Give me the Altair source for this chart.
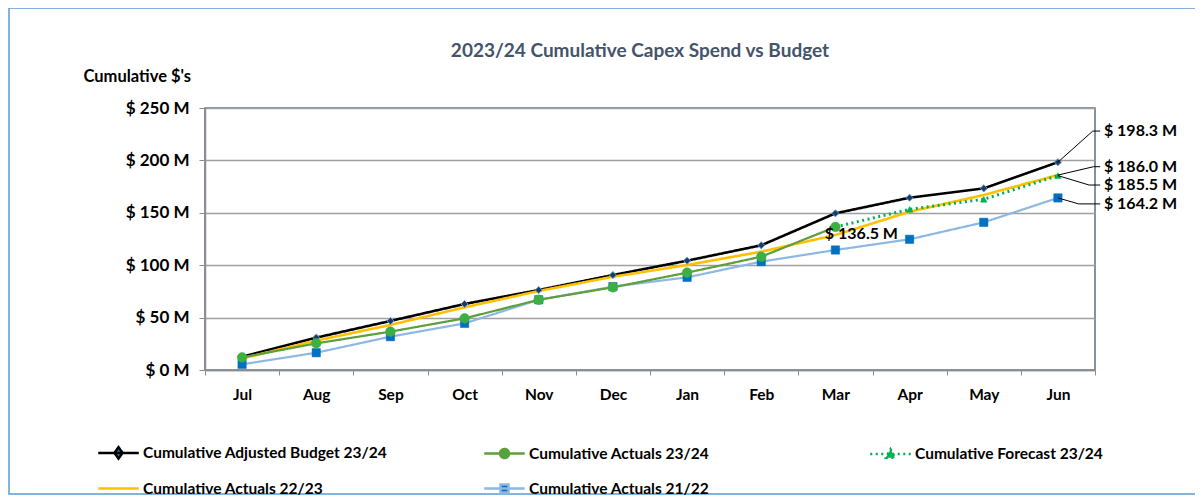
import json
import altair as alt
import pandas as pd

# ---------------- data ----------------
months = ["Jul", "Aug", "Sep", "Oct", "Nov", "Dec", "Jan", "Feb", "Mar", "Apr", "May", "Jun"]

budget_2324 = [12.7, 30.9, 46.8, 63.0, 76.3, 90.6, 104.3, 119.0, 149.5, 164.4, 173.3, 198.3]
actuals_2324 = [12.0, 25.4, 36.6, 49.3, 67.0, 78.9, 92.9, 108.1, 136.5, None, None, None]
forecast_2324 = [None, None, None, None, None, None, None, None, 136.5, 153.3, 162.9, 185.5]
actuals_2223 = [11.0, 28.0, 43.0, 59.8, 75.4, 89.0, 100.2, 112.9, 128.8, 151.0, 167.0, 186.0]
actuals_2122 = [5.4, 16.5, 31.8, 44.5, 67.0, 79.5, 88.4, 103.4, 114.5, 124.7, 140.9, 164.2]

series_names = [
    "Cumulative Adjusted Budget 23/24",
    "Cumulative Actuals 23/24",
    "Cumulative Forecast 23/24",
    "Cumulative Actuals 22/23",
    "Cumulative Actuals 21/22",
]
series_values = [budget_2324, actuals_2324, forecast_2324, actuals_2223, actuals_2122]

# end-of-year call-out labels
callout_values = [198.3, 186.0, 185.5, 164.2]
callout_text = ["$ 198.3 M", "$ 186.0 M", "$ 185.5 M", "$ 164.2 M"]
callout_label_y = [228.0, 194.0, 176.5, 158.5]
callout_elbow_x = [11.47, 11.48, 11.42, 11.28]
mar_label_value = 136.5

# ---------------- styles ----------------
FONT = "Lato"
line_colors = ["#000000", "#5E9E3C", "#00B050", "#FFC000", "#8DB8E4"]
line_widths = [2.6, 2.2, 3.0, 2.6, 2.2]
line_dashes = [[1, 0], [1, 0], [2, 3.5], [1, 0], [1, 0]]
legend_fills = ["#2E75B6", "#3CB043", "#00B050", "#FFC000", "#0070C0"]
L = "M-1.35,0H1.35"
legend_paths = [
    L + "M0,-0.38L0.27,0L0,0.38L-0.27,0Z",
    L + "M0.3,0A0.3,0.3 0 1,0 -0.3,0A0.3,0.3 0 1,0 0.3,0Z",
    L + "M0,-0.3L0.3,0.25L-0.3,0.25Z",
    L,
    L + "M-0.27,-0.27H0.27V0.27H-0.27Z",
]

rows = []
for name, vals in zip(series_names, series_values):
    for i, v in enumerate(vals):
        if v is not None:
            rows.append({"series": name, "idx": i, "month": months[i], "value": v})
df = pd.DataFrame(rows)

W, H = 890, 262
band = W / 12.0

x_scale = alt.Scale(domain=[-0.5, 11.5], nice=False, zero=False)
y_scale = alt.Scale(domain=[0, 250], nice=False)

month_expr = "[" + ",".join(json.dumps(m) for m in months) + "][round(datum.value + 0.5)] || ''"

x_axis = alt.Axis(
    values=[i - 0.5 for i in range(13)],
    labelExpr=month_expr,
    labelOffset=band / 2,
    labelFlush=False,
    labelOverlap=False,
    labelBound=False,
    grid=False,
    title=None,
    labelFont=FONT,
    labelFontSize=15.5,
    labelFontWeight="bold",
    labelColor="#000000",
    labelPadding=12,
    tickSize=5,
    tickColor="#8C8C8C",
    domainColor="#8C8C8C",
    domainWidth=1.5,
)
y_axis = alt.Axis(
    values=[0, 50, 100, 150, 200, 250],
    labelExpr="'$ ' + datum.value + ' M'",
    labelFont=FONT,
    labelFontSize=17,
    labelFontWeight="bold",
    labelColor="#000000",
    labelPadding=10,
    tickSize=6,
    tickColor="#8C8C8C",
    domainColor="#8C8C8C",
    domainWidth=1.5,
    grid=True,
    gridColor="#A0A0A0",
    gridWidth=1.5,
    title="Cumulative $'s",
    titleAngle=0,
    titleAlign="left",
    titleBaseline="middle",
    titleX=-122,
    titleY=-32,
    titleFont=FONT,
    titleFontSize=16.5,
    titleFontWeight="bold",
    titleColor="#000000",
)

legend = alt.Legend(
    title=None,
    orient="none",
    legendX=-103,
    legendY=328,
    direction="horizontal",
    columns=3,
    gridAlign="all",
    columnPadding=91,
    rowPadding=8,
    symbolSize=900,
    symbolStrokeWidth=2.5,
    symbolOpacity=1,
    labelFont=FONT,
    labelFontSize=15.5,
    labelFontWeight="bold",
    labelColor="#000000",
    labelOffset=8,
    labelLimit=400,
)

X = alt.X("idx:Q", scale=x_scale, axis=x_axis)
Y = alt.Y("value:Q", scale=y_scale, axis=y_axis)
base = alt.Chart(df).encode(x=X, y=Y)


def series_line(k):
    return base.transform_filter(alt.datum.series == series_names[k]).mark_line(
        color=line_colors[k], strokeWidth=line_widths[k], strokeDash=line_dashes[k]
    ).encode(order=alt.Order("idx:Q"))


def pts(k, shape, size, fill, stroke, sw, exclude_idx=None):
    c = base.transform_filter(alt.datum.series == series_names[k])
    if exclude_idx is not None:
        c = c.transform_filter(alt.datum.idx != exclude_idx)
    return c.mark_point(shape=shape, size=size, filled=True, fill=fill, stroke=stroke,
                        strokeWidth=sw, opacity=1)


# legend carrier: draws nothing, only provides the combined legend
names_scale = dict(domain=series_names)
legend_layer = base.transform_filter("false").mark_point(filled=True, opacity=1).encode(
    stroke=alt.Stroke("series:N", scale=alt.Scale(range=line_colors, **names_scale), legend=legend),
    fill=alt.Fill("series:N", scale=alt.Scale(range=legend_fills, **names_scale), legend=legend),
    shape=alt.Shape("series:N", scale=alt.Scale(range=legend_paths, **names_scale), legend=legend),
    strokeDash=alt.StrokeDash("series:N", scale=alt.Scale(range=line_dashes, **names_scale), legend=legend),
)

l_blue = series_line(4)
l_black = series_line(0)
l_yellow = series_line(3)
l_green = series_line(1)
l_fc = series_line(2)

p_blue = pts(4, "square", 70, "#0070C0", "#0070C0", 0.5)
p_black = pts(0, "diamond", 50, "#1F3864", "#5B9BD5", 1)
p_green = pts(1, "circle", 95, "#3CB043", "#3CB043", 0.5)
p_fc = pts(2, "triangle-up", 45, "#00B050", "#00B050", 0.5, exclude_idx=8)

# call-outs at the end of the year
co_rows = []
lab_rows = []
for k, (v, t, ly, ex) in enumerate(zip(callout_values, callout_text, callout_label_y, callout_elbow_x)):
    co_rows += [
        {"k": k, "o": 0, "idx": 11, "value": v},
        {"k": k, "o": 1, "idx": ex, "value": ly},
        {"k": k, "o": 2, "idx": 11.57, "value": ly},
    ]
    lab_rows.append({"idx": 11.62, "value": ly, "text": t})
co_df = pd.DataFrame(co_rows)
lab_df = pd.DataFrame(lab_rows)

leaders = alt.Chart(co_df).mark_line(color="#000000", strokeWidth=1).encode(
    x=alt.X("idx:Q", scale=x_scale),
    y=alt.Y("value:Q", scale=y_scale),
    detail="k:N",
    order="o:Q",
)
labels = alt.Chart(lab_df).mark_text(
    align="left", baseline="middle", font=FONT, fontSize=16, fontWeight="bold", color="#000000"
).encode(
    x=alt.X("idx:Q", scale=x_scale),
    y=alt.Y("value:Q", scale=y_scale),
    text="text:N",
)
mar_df = pd.DataFrame([{"idx": 8, "value": mar_label_value, "text": "$ 136.5 M"}])
mar_label = alt.Chart(mar_df).mark_text(
    align="center", baseline="middle", font=FONT, fontSize=16, fontWeight="bold",
    color="#000000", dx=26, dy=7
).encode(
    x=alt.X("idx:Q", scale=x_scale),
    y=alt.Y("value:Q", scale=y_scale),
    text="text:N",
)

frame = alt.Chart(pd.DataFrame([{"a": 0}])).mark_rect(
    fill="transparent", stroke="#5B9BD5", strokeWidth=1.5
).encode(
    x=alt.value(-196), x2=alt.value(W + 110), y=alt.value(-100), y2=alt.value(H + 124)
)

chart = alt.layer(
    frame, l_blue, l_black, l_yellow, l_green, l_fc,
    p_blue, p_black, p_green, p_fc, leaders, labels, mar_label, legend_layer
).properties(
    width=W,
    height=H,
    autosize=alt.AutoSizeParams(type="none"),
    padding={"left": 197, "top": 100, "right": 100, "bottom": 125},
    background="#FFFFFF",
    title=alt.TitleParams(
        "2023/24 Cumulative Capex Spend vs Budget",
        font=FONT, fontSize=19, fontWeight="bold", color="#44546A",
        anchor="middle", offset=10, dx=-10, dy=64,
    ),
).configure_view(stroke="#5F6F85", strokeWidth=1.5)

chart.save("out.html", embed_options={"renderer": "svg", "actions": False})
